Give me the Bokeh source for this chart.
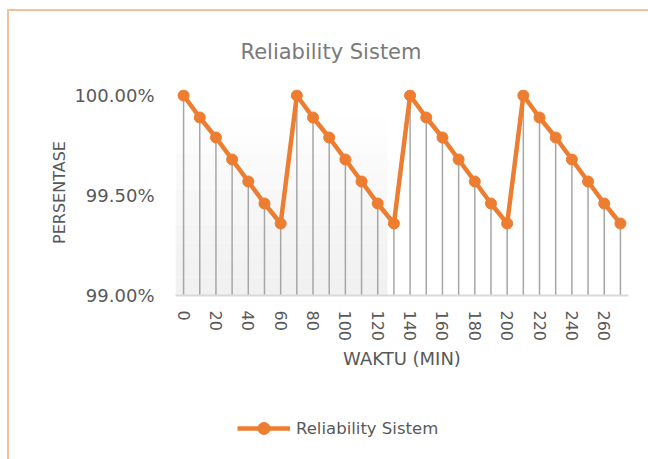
from bokeh.plotting import figure
from bokeh.layouts import column
from bokeh.models import (Range1d, FixedTicker, NumeralTickFormatter, Legend, LegendItem,
                          Title, BoxAnnotation)
from bokeh.embed import file_html
from bokeh.resources import INLINE

# ---- data ----
waktu = [0, 10, 20, 30, 40, 50, 60,
         70, 80, 90, 100, 110, 120, 130,
         140, 150, 160, 170, 180, 190, 200,
         210, 220, 230, 240, 250, 260, 270]
cycle = [1.0, 0.9989, 0.9979, 0.9968, 0.9957, 0.9946, 0.9936]
reliability = cycle * 4
x_tick_labels = [0, 20, 40, 60, 80, 100, 120, 140, 160, 180, 200, 220, 240, 260]
y_ticks = [0.99, 0.995, 1.0]
series_name = "Reliability Sistem"

ORANGE = "#ED7D31"
GREY_TXT = "#595959"
FONT = "DejaVu Sans"

p = figure(width=639, height=389, output_backend="svg", toolbar_location=None,
           x_range=Range1d(-5, 275), y_range=Range1d(0.99, 1.0003),
           min_border_left=166, min_border_right=20, min_border_top=78,
           min_border_bottom=105)
p.outline_line_color = None
p.background_fill_color = "white"
p.xgrid.grid_line_color = None
p.ygrid.grid_line_color = None

# faint grey shading behind the first part of the plot (as in the picture)
shade_levels = ["#FEFEFE", "#FCFCFC", "#FAFAFA", "#F9F9F9", "#F7F7F7",
                "#F6F6F6", "#F4F4F4", "#F3F3F3", "#F2F2F2", "#F1F1F1"]
n = len(shade_levels)
for i, c in enumerate(shade_levels):
    top = 0.99885 - i * (0.00885 / n)
    bot = 0.99885 - (i + 1) * (0.00885 / n)
    p.add_layout(BoxAnnotation(left=-5, right=126, top=top, bottom=bot,
                               fill_color=c, fill_alpha=1.0, line_color=None,
                               level="underlay"))

# drop lines
p.segment(x0=waktu, y0=reliability, x1=waktu, y1=[y_ticks[0]] * len(waktu),
          line_color="#A6A6A6", line_width=1.5)
line = p.line(waktu, reliability, line_color=ORANGE, line_width=4.5)
pts = p.scatter(waktu, reliability, size=11, fill_color=ORANGE, line_color=ORANGE)

# axes
p.xaxis.ticker = FixedTicker(ticks=x_tick_labels)
p.xaxis.major_label_orientation = "vertical"
p.xaxis.axis_label = "WAKTU (MIN)"
p.xaxis.axis_line_color = "#D9D9D9"
p.xaxis.axis_line_width = 2
p.xaxis.major_tick_line_color = None
p.xaxis.minor_tick_line_color = None
p.xaxis.major_label_standoff = 9
p.xaxis.axis_label_standoff = 4
p.xaxis.major_label_text_font_size = "16px"
p.xaxis.axis_label_text_font_size = "18px"

p.yaxis.ticker = FixedTicker(ticks=y_ticks)
p.yaxis.formatter = NumeralTickFormatter(format="0.00%")
p.yaxis.axis_label = "PERSENTASE"
p.yaxis.axis_line_color = None
p.yaxis.major_tick_line_color = None
p.yaxis.minor_tick_line_color = None
p.yaxis.major_label_standoff = 15
p.yaxis.axis_label_standoff = 2
p.yaxis.major_label_text_font_size = "18px"
p.yaxis.axis_label_text_font_size = "16px"

for ax in (p.xaxis, p.yaxis):
    ax.major_label_text_font = FONT
    ax.major_label_text_color = GREY_TXT
    ax.axis_label_text_font = FONT
    ax.axis_label_text_font_style = "normal"
    ax.axis_label_text_color = GREY_TXT

title = Title(text=series_name, align="left", offset=65, text_font=FONT,
              text_font_size="21px", text_font_style="normal", text_color="#7A7A7A",
              standoff=52)
p.add_layout(title, "above")

# ---- legend strip below the chart (its view is kept away from the data) ----
pl = figure(width=639, height=59, output_backend="svg", toolbar_location=None,
            x_range=Range1d(-20, -10), y_range=Range1d(-20, -10),
            x_axis_location=None, y_axis_location=None,
            min_border_left=0, min_border_right=0, min_border_top=0, min_border_bottom=0)
pl.outline_line_color = None
pl.xgrid.grid_line_color = None
pl.ygrid.grid_line_color = None
leg_line = pl.line(waktu, reliability, line_color=ORANGE, line_width=4.5)
leg_pts = pl.scatter(waktu, reliability, size=11, fill_color=ORANGE, line_color=ORANGE)
legend = Legend(items=[LegendItem(label=series_name, renderers=[leg_line, leg_pts])],
                location=(62, 16), orientation="horizontal",
                label_text_font=FONT, label_text_font_size="16.5px",
                label_text_color=GREY_TXT, glyph_width=53, glyph_height=30,
                label_standoff=6, border_line_color=None, background_fill_alpha=0)
pl.add_layout(legend, "center")

layout = column(p, pl, spacing=0)
layout.styles = {"border-left": "2px solid #F6BE9A", "border-top": "2px solid #F6BE9A",
                 "margin-left": "7px", "margin-top": "9px"}

open("out.html", "w").write(file_html(layout, INLINE))
